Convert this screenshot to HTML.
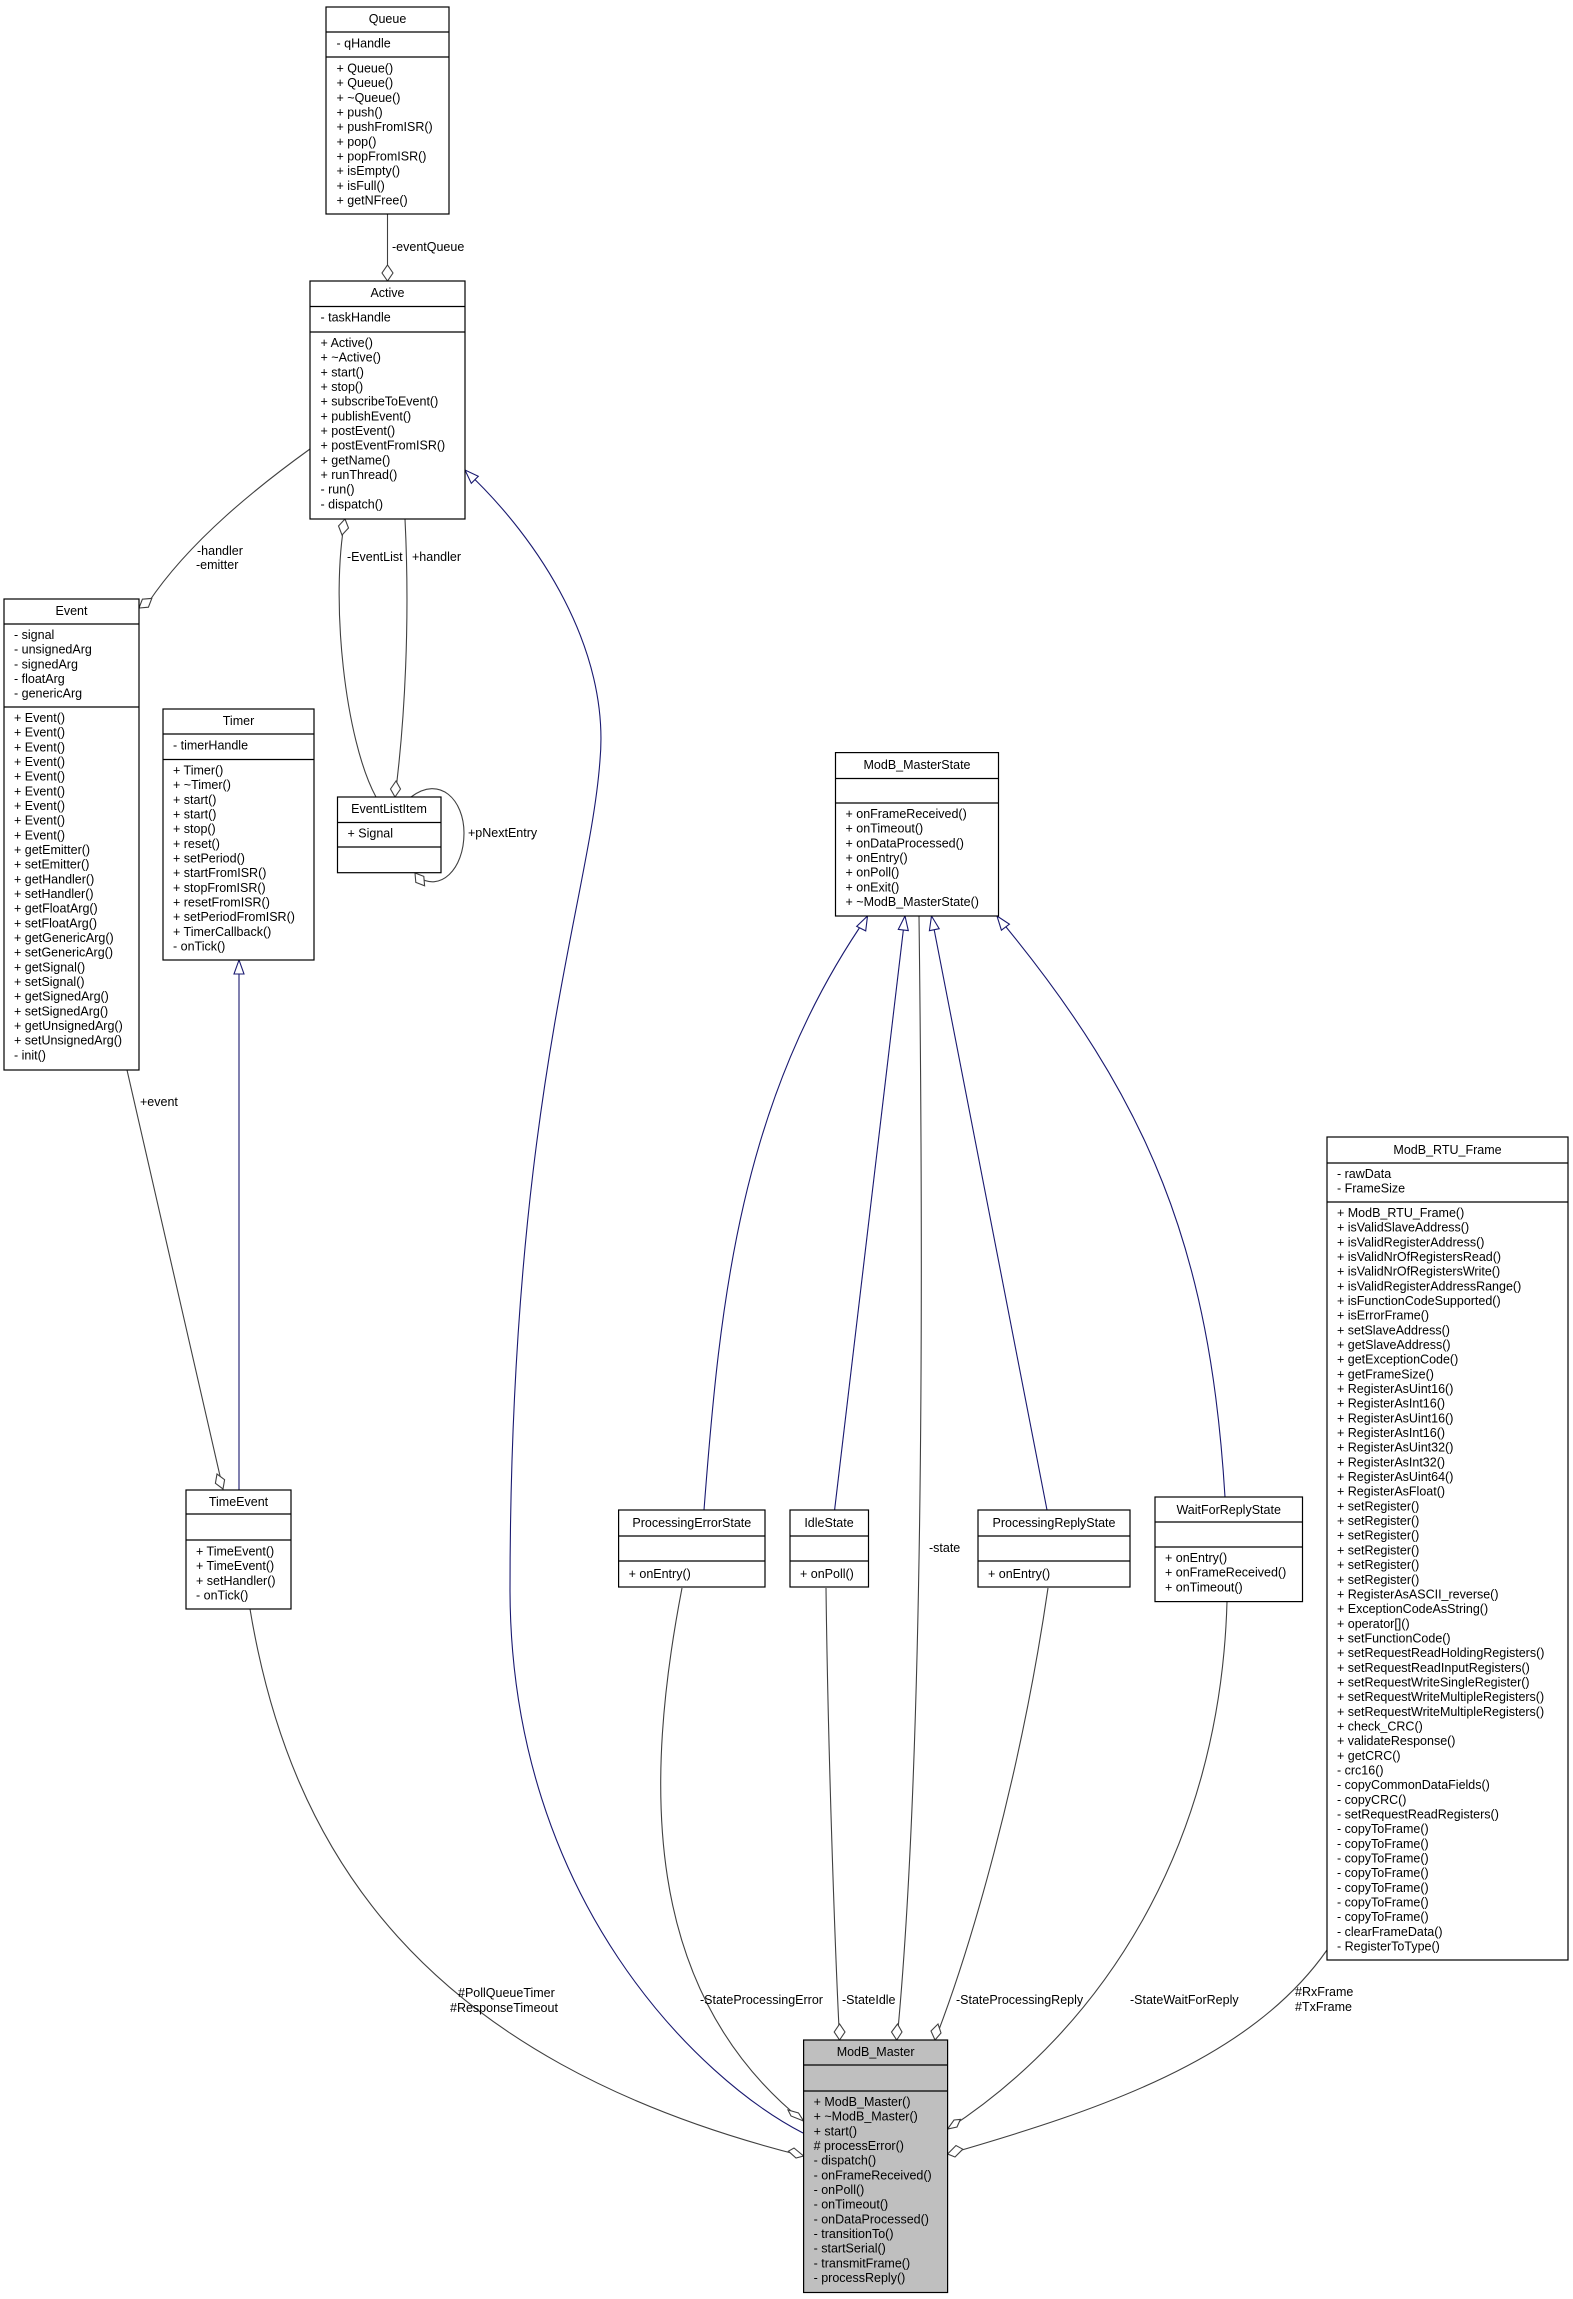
<!DOCTYPE html>
<html><head><meta charset="utf-8"><style>
html,body{margin:0;padding:0;background:#fff;}
svg{display:block;}
text{font-family:"Liberation Sans",sans-serif;font-size:12.5px;fill:#000;}
.b{fill:#fff;stroke:#000;stroke-width:1.2;}
.g{fill:#bfbfbf;stroke:#000;stroke-width:1.2;}
.s{stroke:#000;stroke-width:1.2;}
.e{fill:none;stroke:#404040;stroke-width:1.1;}
.h{fill:none;stroke:#191970;stroke-width:1.1;}
.d{fill:#fff;stroke:#404040;stroke-width:1.1;}
.t{fill:#fff;stroke:#191970;stroke-width:1.1;}
.c{text-anchor:middle;}
</style></head><body>
<svg width="1573" height="2299" viewBox="0 0 1573 2299" xmlns="http://www.w3.org/2000/svg">
<!-- edges -->
<path class="e" d="M387.5 214 L387.5 281"/>
<path class="e" d="M310 449 C260 485,190 540,148 603"/>
<path class="e" d="M345 519 C330 600,345 740,376 797"/>
<path class="e" d="M405 519 C410 620,405 720,395 797"/>
<path class="e" d="M411 797 C440 775,464 800,464 833 C464 870,440 892,418 877"/>
<path class="e" d="M127 1070 L223 1489"/>
<path class="h" d="M239 960 L239 1490"/>
<path class="h" d="M465 470 C540 540,610 650,600 760 C590 900,510 1100,510 1591 C511 1900,700 2080,803 2133"/>
<path class="e" d="M250 1609 C290 1850,420 2060,803 2156"/>
<path class="e" d="M682 1588 C645 1780,640 1990,803 2121"/>
<path class="e" d="M826 1588 C828 1750,835 1950,839.6 2040"/>
<path class="e" d="M919 916 C925 1400,920 1800,897 2040"/>
<path class="e" d="M1048 1588 C1020 1780,970 1950,935 2040"/>
<path class="e" d="M1227 1602 C1220 1850,1100 2030,948 2129"/>
<path class="e" d="M1327 1950 C1250 2060,1100 2110,948 2154"/>
<path class="h" d="M704 1510 C720 1300,740 1100,867.5 916"/>
<path class="h" d="M834.6 1510 L905 916"/>
<path class="h" d="M1047 1510 L931.5 916"/>
<path class="h" d="M1225 1497 C1210 1250,1150 1100,997 916"/>
<!-- diamonds -->
<polygon class="d" points="387.5,281 382,273 387.5,265 393,273"/>
<polygon class="d" points="139,608 142.4,599.2 151.8,598.4 148.4,607.2"/>
<polygon class="d" points="345,519 348.5,528 342,535 338.5,526"/>
<polygon class="d" points="395,797 400.5,789 396,781 390.5,789"/>
<polygon class="d" points="415,873 423.8,876.4 424.6,885.8 415.8,882.4"/>
<polygon class="d" points="223,1489 224.6,1479.7 217,1474 215.4,1483.3"/>
<polygon class="d" points="839.6,2040 845,2032 839.6,2024 834.2,2032"/>
<polygon class="d" points="896.7,2040 902,2032 897.5,2024 891.5,2032"/>
<polygon class="d" points="935,2040 941,2033 938,2024 931,2031"/>
<polygon class="d" points="803.6,2121 791,2116 788,2110 798.5,2113"/>
<polygon class="d" points="803.6,2156 794,2148 788.4,2151.2 796,2158"/>
<polygon class="d" points="947.6,2129 954,2120 960.4,2119.4 957,2127"/>
<polygon class="d" points="947.6,2154 956,2145.5 962.8,2149.2 955,2157"/>
<!-- triangles -->
<polygon class="t" points="465,470 471.3,483.3 478.3,476.3"/>
<polygon class="t" points="239,960 234,974 244,974"/>
<polygon class="t" points="867.5,916 865.7,930.9 856.7,926.4"/>
<polygon class="t" points="905,916 908.3,930.6 898.3,929.4"/>
<polygon class="t" points="931.5,916 939.2,928.7 929.4,930.7"/>
<polygon class="t" points="997,916 1009.4,924.2 1001.4,930.2"/>
<!-- labels -->
<text x="392" y="251">-eventQueue</text>
<text x="197" y="555">-handler</text>
<text x="196" y="569">-emitter</text>
<text x="347" y="561">-EventList</text>
<text x="412" y="561">+handler</text>
<text x="468" y="837">+pNextEntry</text>
<text x="140" y="1106">+event</text>
<text x="458" y="1997">#PollQueueTimer</text>
<text x="450" y="2012">#ResponseTimeout</text>
<text x="929" y="1552">-state</text>
<text x="700" y="2004">-StateProcessingError</text>
<text x="842" y="2004">-StateIdle</text>
<text x="956" y="2004">-StateProcessingReply</text>
<text x="1130" y="2004">-StateWaitForReply</text>
<text x="1295" y="1996">#RxFrame</text>
<text x="1295" y="2011">#TxFrame</text>

<!-- Queue -->
<rect class="b" x="326" y="7" width="123" height="207"/>
<line class="s" x1="326" y1="32" x2="449" y2="32"/><line class="s" x1="326" y1="57" x2="449" y2="57"/>
<text class="c" x="387.5" y="23">Queue</text>
<text x="336.5" y="47.5">- qHandle</text>
<text y="72.5"><tspan x="336.5">+ Queue()</tspan><tspan x="336.5" dy="14.67">+ Queue()</tspan><tspan x="336.5" dy="14.67">+ ~Queue()</tspan><tspan x="336.5" dy="14.67">+ push()</tspan><tspan x="336.5" dy="14.67">+ pushFromISR()</tspan><tspan x="336.5" dy="14.67">+ pop()</tspan><tspan x="336.5" dy="14.67">+ popFromISR()</tspan><tspan x="336.5" dy="14.67">+ isEmpty()</tspan><tspan x="336.5" dy="14.67">+ isFull()</tspan><tspan x="336.5" dy="14.67">+ getNFree()</tspan></text>

<!-- Active -->
<rect class="b" x="310" y="281" width="155" height="238"/>
<line class="s" x1="310" y1="306.5" x2="465" y2="306.5"/><line class="s" x1="310" y1="332" x2="465" y2="332"/>
<text class="c" x="387.5" y="297">Active</text>
<text x="320.5" y="321.5">- taskHandle</text>
<text y="347"><tspan x="320.5">+ Active()</tspan><tspan x="320.5" dy="14.67">+ ~Active()</tspan><tspan x="320.5" dy="14.67">+ start()</tspan><tspan x="320.5" dy="14.67">+ stop()</tspan><tspan x="320.5" dy="14.67">+ subscribeToEvent()</tspan><tspan x="320.5" dy="14.67">+ publishEvent()</tspan><tspan x="320.5" dy="14.67">+ postEvent()</tspan><tspan x="320.5" dy="14.67">+ postEventFromISR()</tspan><tspan x="320.5" dy="14.67">+ getName()</tspan><tspan x="320.5" dy="14.67">+ runThread()</tspan><tspan x="320.5" dy="14.67">- run()</tspan><tspan x="320.5" dy="14.67">- dispatch()</tspan></text>

<!-- Event -->
<rect class="b" x="4" y="599" width="135" height="471"/>
<line class="s" x1="4" y1="624" x2="139" y2="624"/><line class="s" x1="4" y1="707" x2="139" y2="707"/>
<text class="c" x="71.5" y="615">Event</text>
<text y="639"><tspan x="14">- signal</tspan><tspan x="14" dy="14.67">- unsignedArg</tspan><tspan x="14" dy="14.67">- signedArg</tspan><tspan x="14" dy="14.67">- floatArg</tspan><tspan x="14" dy="14.67">- genericArg</tspan></text>
<text y="722"><tspan x="14">+ Event()</tspan><tspan x="14" dy="14.67">+ Event()</tspan><tspan x="14" dy="14.67">+ Event()</tspan><tspan x="14" dy="14.67">+ Event()</tspan><tspan x="14" dy="14.67">+ Event()</tspan><tspan x="14" dy="14.67">+ Event()</tspan><tspan x="14" dy="14.67">+ Event()</tspan><tspan x="14" dy="14.67">+ Event()</tspan><tspan x="14" dy="14.67">+ Event()</tspan><tspan x="14" dy="14.67">+ getEmitter()</tspan><tspan x="14" dy="14.67">+ setEmitter()</tspan><tspan x="14" dy="14.67">+ getHandler()</tspan><tspan x="14" dy="14.67">+ setHandler()</tspan><tspan x="14" dy="14.67">+ getFloatArg()</tspan><tspan x="14" dy="14.67">+ setFloatArg()</tspan><tspan x="14" dy="14.67">+ getGenericArg()</tspan><tspan x="14" dy="14.67">+ setGenericArg()</tspan><tspan x="14" dy="14.67">+ getSignal()</tspan><tspan x="14" dy="14.67">+ setSignal()</tspan><tspan x="14" dy="14.67">+ getSignedArg()</tspan><tspan x="14" dy="14.67">+ setSignedArg()</tspan><tspan x="14" dy="14.67">+ getUnsignedArg()</tspan><tspan x="14" dy="14.67">+ setUnsignedArg()</tspan><tspan x="14" dy="14.67">- init()</tspan></text>

<!-- Timer -->
<rect class="b" x="163" y="709" width="151" height="251"/>
<line class="s" x1="163" y1="734" x2="314" y2="734"/><line class="s" x1="163" y1="759.5" x2="314" y2="759.5"/>
<text class="c" x="238.5" y="725">Timer</text>
<text x="173" y="749.5">- timerHandle</text>
<text y="774.5"><tspan x="173">+ Timer()</tspan><tspan x="173" dy="14.67">+ ~Timer()</tspan><tspan x="173" dy="14.67">+ start()</tspan><tspan x="173" dy="14.67">+ start()</tspan><tspan x="173" dy="14.67">+ stop()</tspan><tspan x="173" dy="14.67">+ reset()</tspan><tspan x="173" dy="14.67">+ setPeriod()</tspan><tspan x="173" dy="14.67">+ startFromISR()</tspan><tspan x="173" dy="14.67">+ stopFromISR()</tspan><tspan x="173" dy="14.67">+ resetFromISR()</tspan><tspan x="173" dy="14.67">+ setPeriodFromISR()</tspan><tspan x="173" dy="14.67">+ TimerCallback()</tspan><tspan x="173" dy="14.67">- onTick()</tspan></text>

<!-- EventListItem -->
<rect class="b" x="337.5" y="797" width="103.5" height="75.7"/>
<line class="s" x1="337.5" y1="822.5" x2="441" y2="822.5"/><line class="s" x1="337.5" y1="847" x2="441" y2="847"/>
<text class="c" x="389" y="813">EventListItem</text>
<text x="347.5" y="837.5">+ Signal</text>

<!-- TimeEvent -->
<rect class="b" x="186" y="1490" width="105" height="119"/>
<line class="s" x1="186" y1="1514" x2="291" y2="1514"/><line class="s" x1="186" y1="1540" x2="291" y2="1540"/>
<text class="c" x="238.5" y="1506">TimeEvent</text>
<text y="1555.5"><tspan x="196">+ TimeEvent()</tspan><tspan x="196" dy="14.67">+ TimeEvent()</tspan><tspan x="196" dy="14.67">+ setHandler()</tspan><tspan x="196" dy="14.67">- onTick()</tspan></text>

<!-- ModB_MasterState -->
<rect class="b" x="835.5" y="752.6" width="163" height="163.4"/>
<line class="s" x1="835.5" y1="778.5" x2="998.5" y2="778.5"/><line class="s" x1="835.5" y1="803" x2="998.5" y2="803"/>
<text class="c" x="917" y="769">ModB_MasterState</text>
<text y="818"><tspan x="845.5">+ onFrameReceived()</tspan><tspan x="845.5" dy="14.67">+ onTimeout()</tspan><tspan x="845.5" dy="14.67">+ onDataProcessed()</tspan><tspan x="845.5" dy="14.67">+ onEntry()</tspan><tspan x="845.5" dy="14.67">+ onPoll()</tspan><tspan x="845.5" dy="14.67">+ onExit()</tspan><tspan x="845.5" dy="14.67">+ ~ModB_MasterState()</tspan></text>

<!-- ProcessingErrorState -->
<rect class="b" x="618.6" y="1510" width="146.4" height="77"/>
<line class="s" x1="618.6" y1="1536" x2="765" y2="1536"/><line class="s" x1="618.6" y1="1561" x2="765" y2="1561"/>
<text class="c" x="691.8" y="1527">ProcessingErrorState</text>
<text x="628.6" y="1578">+ onEntry()</text>

<!-- IdleState -->
<rect class="b" x="790" y="1510" width="78.5" height="77"/>
<line class="s" x1="790" y1="1536" x2="868.5" y2="1536"/><line class="s" x1="790" y1="1561" x2="868.5" y2="1561"/>
<text class="c" x="829" y="1527">IdleState</text>
<text x="800" y="1578">+ onPoll()</text>

<!-- ProcessingReplyState -->
<rect class="b" x="978" y="1510" width="152" height="77"/>
<line class="s" x1="978" y1="1536" x2="1130" y2="1536"/><line class="s" x1="978" y1="1561" x2="1130" y2="1561"/>
<text class="c" x="1054" y="1527">ProcessingReplyState</text>
<text x="988" y="1578">+ onEntry()</text>

<!-- WaitForReplyState -->
<rect class="b" x="1155" y="1497" width="147.5" height="104.6"/>
<line class="s" x1="1155" y1="1522" x2="1302.5" y2="1522"/><line class="s" x1="1155" y1="1547" x2="1302.5" y2="1547"/>
<text class="c" x="1228.7" y="1514">WaitForReplyState</text>
<text y="1562"><tspan x="1165">+ onEntry()</tspan><tspan x="1165" dy="14.67">+ onFrameReceived()</tspan><tspan x="1165" dy="14.67">+ onTimeout()</tspan></text>

<!-- ModB_RTU_Frame -->
<rect class="b" x="1327" y="1137" width="241" height="823"/>
<line class="s" x1="1327" y1="1163" x2="1568" y2="1163"/><line class="s" x1="1327" y1="1202" x2="1568" y2="1202"/>
<text class="c" x="1447.5" y="1154">ModB_RTU_Frame</text>
<text y="1178"><tspan x="1337">- rawData</tspan><tspan x="1337" dy="14.67">- FrameSize</tspan></text>
<text y="1217"><tspan x="1337">+ ModB_RTU_Frame()</tspan><tspan x="1337" dy="14.67">+ isValidSlaveAddress()</tspan><tspan x="1337" dy="14.67">+ isValidRegisterAddress()</tspan><tspan x="1337" dy="14.67">+ isValidNrOfRegistersRead()</tspan><tspan x="1337" dy="14.67">+ isValidNrOfRegistersWrite()</tspan><tspan x="1337" dy="14.67">+ isValidRegisterAddressRange()</tspan><tspan x="1337" dy="14.67">+ isFunctionCodeSupported()</tspan><tspan x="1337" dy="14.67">+ isErrorFrame()</tspan><tspan x="1337" dy="14.67">+ setSlaveAddress()</tspan><tspan x="1337" dy="14.67">+ getSlaveAddress()</tspan><tspan x="1337" dy="14.67">+ getExceptionCode()</tspan><tspan x="1337" dy="14.67">+ getFrameSize()</tspan><tspan x="1337" dy="14.67">+ RegisterAsUint16()</tspan><tspan x="1337" dy="14.67">+ RegisterAsInt16()</tspan><tspan x="1337" dy="14.67">+ RegisterAsUint16()</tspan><tspan x="1337" dy="14.67">+ RegisterAsInt16()</tspan><tspan x="1337" dy="14.67">+ RegisterAsUint32()</tspan><tspan x="1337" dy="14.67">+ RegisterAsInt32()</tspan><tspan x="1337" dy="14.67">+ RegisterAsUint64()</tspan><tspan x="1337" dy="14.67">+ RegisterAsFloat()</tspan><tspan x="1337" dy="14.67">+ setRegister()</tspan><tspan x="1337" dy="14.67">+ setRegister()</tspan><tspan x="1337" dy="14.67">+ setRegister()</tspan><tspan x="1337" dy="14.67">+ setRegister()</tspan><tspan x="1337" dy="14.67">+ setRegister()</tspan><tspan x="1337" dy="14.67">+ setRegister()</tspan><tspan x="1337" dy="14.67">+ RegisterAsASCII_reverse()</tspan><tspan x="1337" dy="14.67">+ ExceptionCodeAsString()</tspan><tspan x="1337" dy="14.67">+ operator[]()</tspan><tspan x="1337" dy="14.67">+ setFunctionCode()</tspan><tspan x="1337" dy="14.67">+ setRequestReadHoldingRegisters()</tspan><tspan x="1337" dy="14.67">+ setRequestReadInputRegisters()</tspan><tspan x="1337" dy="14.67">+ setRequestWriteSingleRegister()</tspan><tspan x="1337" dy="14.67">+ setRequestWriteMultipleRegisters()</tspan><tspan x="1337" dy="14.67">+ setRequestWriteMultipleRegisters()</tspan><tspan x="1337" dy="14.67">+ check_CRC()</tspan><tspan x="1337" dy="14.67">+ validateResponse()</tspan><tspan x="1337" dy="14.67">+ getCRC()</tspan><tspan x="1337" dy="14.67">- crc16()</tspan><tspan x="1337" dy="14.67">- copyCommonDataFields()</tspan><tspan x="1337" dy="14.67">- copyCRC()</tspan><tspan x="1337" dy="14.67">- setRequestReadRegisters()</tspan><tspan x="1337" dy="14.67">- copyToFrame()</tspan><tspan x="1337" dy="14.67">- copyToFrame()</tspan><tspan x="1337" dy="14.67">- copyToFrame()</tspan><tspan x="1337" dy="14.67">- copyToFrame()</tspan><tspan x="1337" dy="14.67">- copyToFrame()</tspan><tspan x="1337" dy="14.67">- copyToFrame()</tspan><tspan x="1337" dy="14.67">- copyToFrame()</tspan><tspan x="1337" dy="14.67">- clearFrameData()</tspan><tspan x="1337" dy="14.67">- RegisterToType()</tspan></text>

<!-- ModB_Master -->
<rect class="g" x="803.6" y="2040" width="144" height="252.5"/>
<line class="s" x1="803.6" y1="2065" x2="947.6" y2="2065"/><line class="s" x1="803.6" y1="2091" x2="947.6" y2="2091"/>
<text class="c" x="875.6" y="2056">ModB_Master</text>
<text y="2106"><tspan x="813.6">+ ModB_Master()</tspan><tspan x="813.6" dy="14.67">+ ~ModB_Master()</tspan><tspan x="813.6" dy="14.67">+ start()</tspan><tspan x="813.6" dy="14.67"># processError()</tspan><tspan x="813.6" dy="14.67">- dispatch()</tspan><tspan x="813.6" dy="14.67">- onFrameReceived()</tspan><tspan x="813.6" dy="14.67">- onPoll()</tspan><tspan x="813.6" dy="14.67">- onTimeout()</tspan><tspan x="813.6" dy="14.67">- onDataProcessed()</tspan><tspan x="813.6" dy="14.67">- transitionTo()</tspan><tspan x="813.6" dy="14.67">- startSerial()</tspan><tspan x="813.6" dy="14.67">- transmitFrame()</tspan><tspan x="813.6" dy="14.67">- processReply()</tspan></text>
</svg>
</body></html>
